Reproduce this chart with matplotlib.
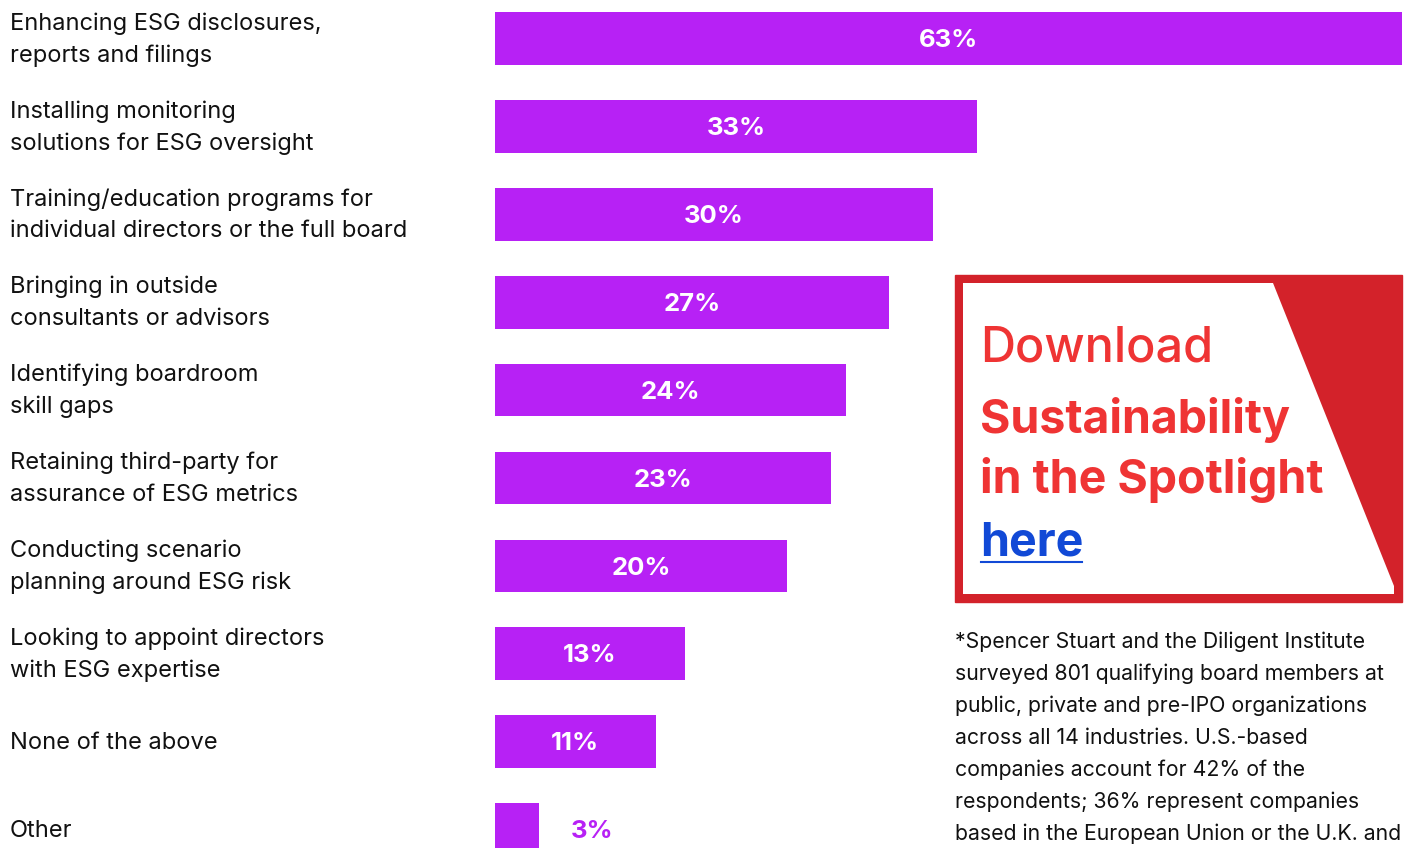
import matplotlib.pyplot as plt
from matplotlib.patches import Rectangle, Polygon

# Board actions on ESG, share of respondents
categories = [
    "Enhancing ESG disclosures,\nreports and filings",
    "Installing monitoring\nsolutions for ESG oversight",
    "Training/education programs for\nindividual directors or the full board",
    "Bringing in outside\nconsultants or advisors",
    "Identifying boardroom\nskill gaps",
    "Retaining third-party for\nassurance of ESG metrics",
    "Conducting scenario\nplanning around ESG risk",
    "Looking to appoint directors\nwith ESG expertise",
    "None of the above",
    "Other",
]
values = [63, 33, 30, 27, 24, 23, 20, 13, 11, 3]

footnote = [
    "*Spencer Stuart and the Diligent Institute",
    "surveyed 801 qualifying board members at",
    "public, private and pre-IPO organizations",
    "across all 14 industries. U.S.-based",
    "companies account for 42% of the",
    "respondents; 36% represent companies",
    "based in the European Union or the U.K. and",
]

W, H = 1406, 848
PURPLE = "#B721F5"
RED = "#D3222A"
TXT_RED = "#EF3434"
BLUE = "#1149D6"
FONT = "Inter"


def fx(x):
    return x / W


def fy(y):
    return 1 - y / H


fig = plt.figure(figsize=(W / 100, H / 100), dpi=100)

# Bars
ax = fig.add_axes([fx(495), 0, (1402 - 495) / W, 1])
pos = list(range(len(values)))
ax.barh(pos, values, height=0.6, color=PURPLE)
ax.set_xlim(0, 62.1)
step = 87.9
ax.set_ylim((H - 38.5) / step, -38.5 / step)
ax.set_axis_off()

for i, v in enumerate(values):
    if v >= 8:
        ax.text(min(v, 62.1) / 2, i + 0.025, f"{v}%", ha="center", va="center",
                color="white", fontsize=18.5, fontweight="bold", family=FONT)
    else:
        ax.text(v + 2.2, i + 0.025, f"{v}%", ha="left", va="center",
                color=PURPLE, fontsize=18.5, fontweight="bold", family=FONT)

# Category labels on the left
for i, lab in enumerate(categories):
    yc = 39.5 + step * i
    lines = lab.split("\n")
    offs = [0] if len(lines) == 1 else [-16, 16]
    for line, o in zip(lines, offs):
        fig.text(fx(10), fy(yc + o), line, ha="left", va="center",
                 fontsize=17, color="#111111", family=FONT)

# Download box
fig.patches.append(Rectangle((fx(955), fy(602)), (1402 - 955) / W, (602 - 275) / H,
                             transform=fig.transFigure, color=RED, zorder=1))
fig.patches.append(Polygon([(fx(963), fy(283)), (fx(1273), fy(283)), (fx(1394), fy(586)),
                            (fx(1394), fy(594)), (fx(963), fy(594))],
                           closed=True, transform=fig.transFigure,
                           facecolor="white", edgecolor="none", zorder=2))
fig.text(fx(980), fy(362), "Download", ha="left", va="baseline", fontsize=35,
         color=TXT_RED, family=FONT, fontweight="medium", zorder=3)
fig.text(fx(980), fy(433), "Sustainability", ha="left", va="baseline", fontsize=33.5,
         color=TXT_RED, family=FONT, fontweight="bold", zorder=3)
fig.text(fx(980), fy(493), "in the Spotlight", ha="left", va="baseline", fontsize=33.5,
         color=TXT_RED, family=FONT, fontweight="bold", zorder=3)
fig.text(fx(980), fy(555), "here", ha="left", va="baseline", fontsize=33.5,
         color=BLUE, family=FONT, fontweight="bold", zorder=3)
fig.lines.append(plt.Line2D([fx(981), fx(1082)], [fy(562), fy(562)],
                            transform=fig.transFigure, color=BLUE, lw=1.5, zorder=3))

# Footnote
for k, line in enumerate(footnote):
    fig.text(fx(955), fy(642 + 32 * k), line, ha="left", va="center",
             fontsize=15.3, color="#111111", family=FONT)

fig.savefig("out.png", dpi=100)
